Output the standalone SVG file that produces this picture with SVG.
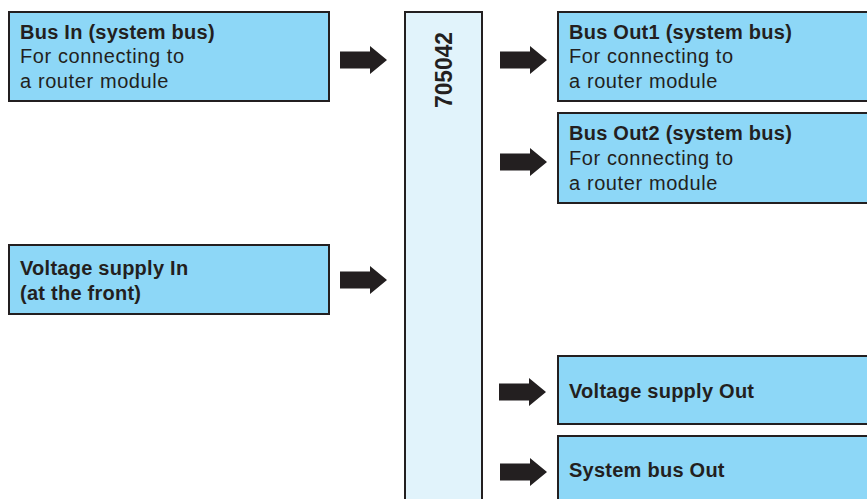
<svg xmlns="http://www.w3.org/2000/svg" width="867" height="499" viewBox="0 0 867 499">
<style>
.box{fill:#8dd7f7;stroke:#231f20;stroke-width:2}
.dev{fill:#e1f3fb;stroke:#231f20;stroke-width:2}
text{font-family:"Liberation Sans",Arial,sans-serif;font-size:20px;fill:#231f20;letter-spacing:0.6px}
.b{font-weight:bold;letter-spacing:0.25px}
.arr{fill:#231f20}
</style>
<defs>
<path id="arrow" d="M0,-8.5 H30 V-14 L47,0 L30,14 V8.5 H0 Z"/>
</defs>
<rect width="867" height="499" fill="#ffffff"/>
<g id="device">
<rect class="dev" x="405" y="12" width="77" height="500"/>
<text class="b" transform="translate(452,108) rotate(-90)" style="font-size:23px;letter-spacing:0" textLength="76" lengthAdjust="spacingAndGlyphs">705042</text>
</g>
<g id="bus-in">
<rect class="box" x="9" y="12" width="320" height="89"/>
<text class="b" x="20" y="39">Bus In (system bus)</text>
<text x="20" y="63">For connecting to</text>
<text x="20" y="88">a router module</text>
</g>
<g id="voltage-in">
<rect class="box" x="9" y="245" width="320" height="69"/>
<text class="b" x="20" y="275">Voltage supply In</text>
<text class="b" x="20" y="300">(at the front)</text>
</g>
<g id="bus-out1">
<rect class="box" x="558" y="12" width="320" height="89"/>
<text class="b" x="569" y="39">Bus Out1 (system bus)</text>
<text x="569" y="63">For connecting to</text>
<text x="569" y="88">a router module</text>
</g>
<g id="bus-out2">
<rect class="box" x="558" y="113" width="320" height="90"/>
<text class="b" x="569" y="140">Bus Out2 (system bus)</text>
<text x="569" y="165">For connecting to</text>
<text x="569" y="190">a router module</text>
</g>
<g id="voltage-out">
<rect class="box" x="558" y="356" width="320" height="68"/>
<text class="b" x="569" y="398">Voltage supply Out</text>
</g>
<g id="sysbus-out">
<rect class="box" x="558" y="436" width="320" height="80"/>
<text class="b" x="569" y="477">System bus Out</text>
</g>
<g id="connectors" class="arr">
<use href="#arrow" x="340" y="60"/>
<use href="#arrow" x="500" y="60"/>
<use href="#arrow" x="500" y="162"/>
<use href="#arrow" x="340" y="280"/>
<use href="#arrow" x="499" y="392"/>
<use href="#arrow" x="500" y="472"/>
</g>
</svg>
